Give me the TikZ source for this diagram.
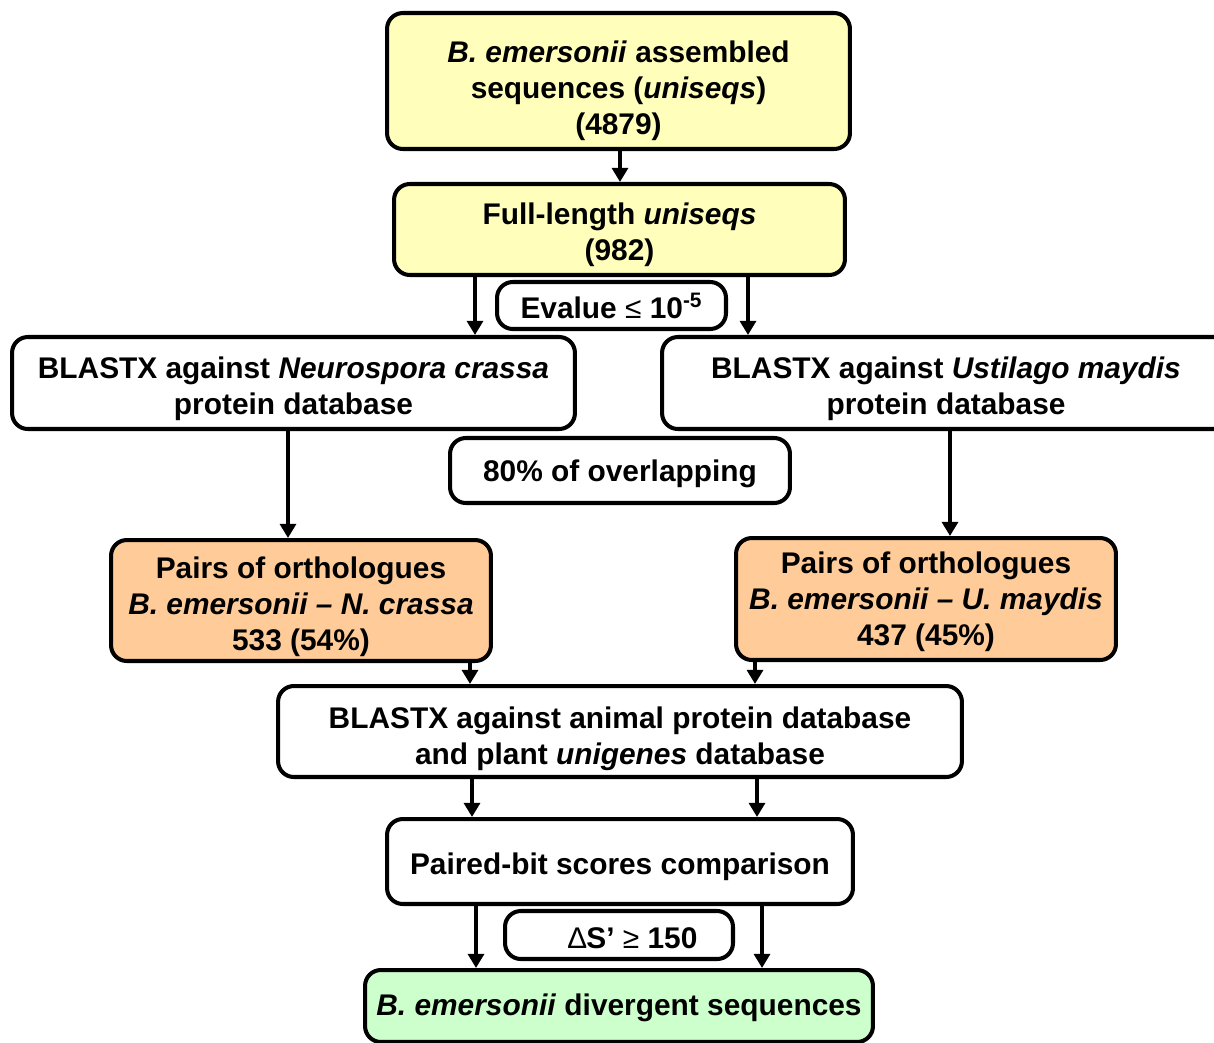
\documentclass[tikz,border=0pt]{standalone}
\usepackage{fontspec}
\setmainfont{Liberation Sans}
\usetikzlibrary{arrows.meta}
\definecolor{paleyellow}{RGB}{255,255,187}
\definecolor{peach}{RGB}{255,204,153}
\definecolor{palegreen}{RGB}{204,255,204}
\newcommand{\lift}[1]{\rule{0pt}{#1}}
\tikzset{
  box/.style={draw, line width=2.3pt, rounded corners=9pt, align=center,
    inner sep=0pt, font=\fontsize{17}{20.5}\selectfont\bfseries},
  arr/.style={line width=2.3pt, -{Triangle[length=8pt,width=9pt]}}
}
\begin{document}
\begin{tikzpicture}[x=0.02cm,y=-0.02cm]
\useasboundingbox (0,0) rectangle (1214,1042);
\clip (0,0) rectangle (1214,1042);

\node[box,fill=paleyellow,minimum width=9.26cm,minimum height=2.72cm] (assembled) at (618.5,81)
  {\lift{23.6pt}\textit{B. emersonii} assembled\\sequences (\textit{uniseqs})\\(4879)};
\node[box,fill=paleyellow,minimum width=9.02cm,minimum height=1.82cm] (full) at (619.5,229.5)
  {\lift{18pt}Full-length \textit{uniseqs}\\(982)};
\node[box,minimum width=4.58cm,minimum height=0.94cm] (evalue) at (611.5,305.5)
  {Evalue {\mdseries≤} 10\textsuperscript{-5}};

\node[box,minimum width=11.26cm,minimum height=1.84cm] (ncrassa) at (293.5,383)
  {\lift{19pt}BLASTX against \textit{Neurospora crassa}\\protein database};
\node[box,minimum width=11.36cm,minimum height=1.84cm] (umaydis) at (946,383)
  {\lift{19pt}BLASTX against \textit{Ustilago maydis}\\protein database};
\node[box,minimum width=6.8cm,minimum height=1.3cm] (overlap) at (620,470.5)
  {\lift{15.7pt}80\% of overlapping};

\node[box,fill=peach,minimum width=7.6cm,minimum height=2.42cm] (pairsN) at (301,600.5)
  {\lift{19pt}Pairs of orthologues\\\textit{B. emersonii – N. crassa}\\533 (54\%)};
\node[box,fill=peach,minimum width=7.6cm,minimum height=2.44cm] (pairsU) at (926,599)
  {\lift{15.7pt}Pairs of orthologues\\\textit{B. emersonii – U. maydis}\\437 (45\%)};

\node[box,minimum width=13.68cm,minimum height=1.82cm] (animal) at (620,731.5)
  {\lift{20.2pt}BLASTX against animal protein database\\and plant \textit{unigenes} database};
\node[box,minimum width=9.32cm,minimum height=1.7cm] (paired) at (620,861.5)
  {\lift{18pt}Paired-bit scores comparison};
\node[box,minimum width=4.56cm,minimum height=0.96cm] (delta) at (619,935)
  {\lift{15.7pt}\hspace*{0.55cm}{\mdseries∆}S’ {\mdseries≥} 150};
\node[box,fill=palegreen,minimum width=10.16cm,minimum height=1.44cm] (divergent) at (619,1006)
  {\lift{14.6pt}\textit{B. emersonii} divergent sequences};

% connectors
\draw[arr] (assembled.south -| 620,0) -- (full.north -| 620,0);
\draw[arr] (full.south -| 475,0) -- (ncrassa.north -| 475,0);
\draw[arr] (full.south -| 748,0) -- (umaydis.north -| 748,0);
\draw[arr] (ncrassa.south -| 288,0) -- (pairsN.north -| 288,0);
\draw[arr] (umaydis.south -| 950,0) -- (pairsU.north -| 950,0);
\draw[arr] (pairsN.south -| 470,0) -- (animal.north -| 470,0);
\draw[arr] (pairsU.south -| 755,0) -- (animal.north -| 755,0);
\draw[arr] (animal.south -| 472,0) -- (paired.north -| 472,0);
\draw[arr] (animal.south -| 757,0) -- (paired.north -| 757,0);
\draw[arr] (paired.south -| 476,0) -- (divergent.north -| 476,0);
\draw[arr] (paired.south -| 762,0) -- (divergent.north -| 762,0);
\end{tikzpicture}
\end{document}
